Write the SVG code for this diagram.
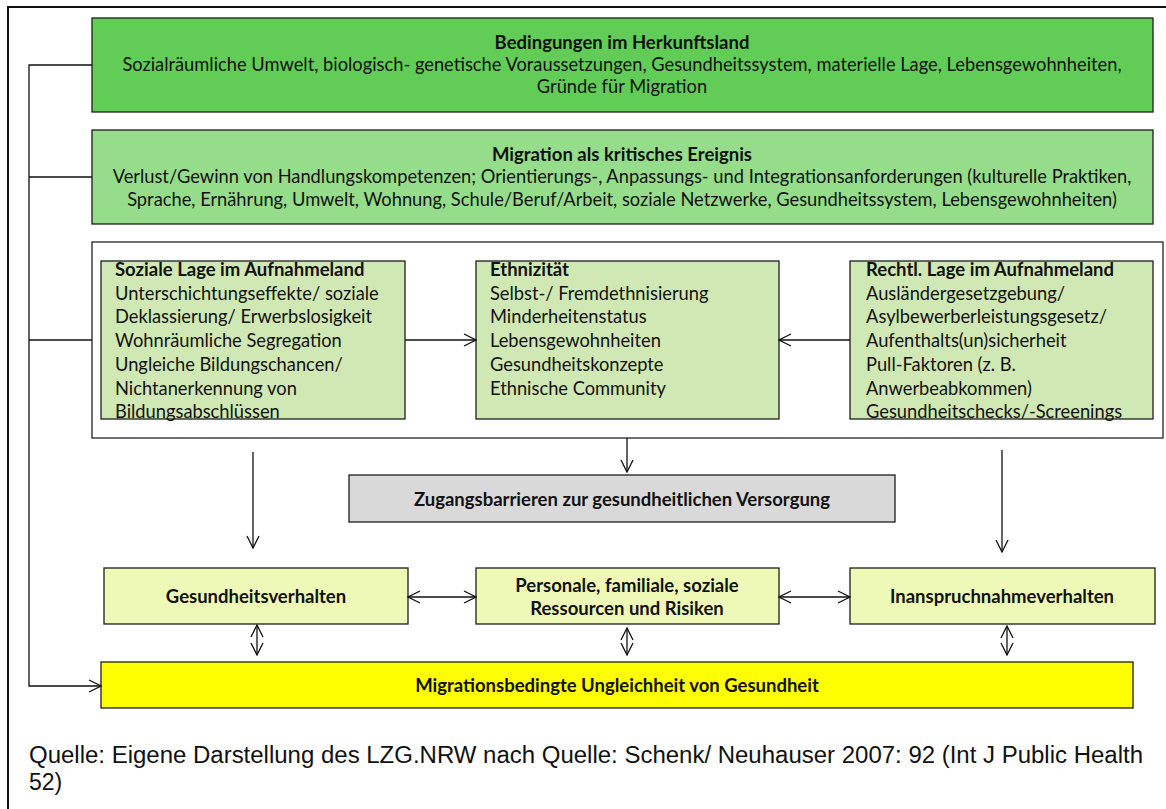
<svg xmlns="http://www.w3.org/2000/svg" width="1166" height="809" viewBox="0 0 1166 809">
<defs>
<marker id="v" viewBox="0 0 14 14" refX="13" refY="7" markerWidth="14" markerHeight="14" markerUnits="userSpaceOnUse" orient="auto-start-reverse">
<path d="M1,1 L13,7 L1,13" fill="none" stroke="#111" stroke-width="1.3"/>
</marker>
</defs>
<style>
.box{stroke:#1e1e1e;stroke-width:1.3}
.t{font-family:Lato,"Open Sans","Liberation Sans",sans-serif;font-size:18.3px;fill:#111}
.b{font-weight:bold;font-size:18.5px}
.c{text-anchor:middle}
.ln{stroke:#111;stroke-width:1.3;fill:none}
</style>
<rect width="1166" height="809" fill="#fff"/>
<rect x="8" y="7" width="1170" height="820" fill="none" stroke="#111" stroke-width="2"/>

<g id="frame-mid"><rect x="92" y="242" width="1071" height="196" fill="#fff" stroke="#111" stroke-width="1.2"/></g>

<g id="node-herkunft">
<rect class="box" x="92" y="18" width="1061" height="94" fill="#62CD56"/>
<text class="t b c" x="622" y="49">Bedingungen im Herkunftsland</text>
<text class="t c" x="622" y="71">Sozialräumliche Umwelt, biologisch- genetische Voraussetzungen, Gesundheitssystem, materielle Lage, Lebensgewohnheiten,</text>
<text class="t c" x="622" y="93">Gründe für Migration</text>
</g>

<g id="node-migration">
<rect class="box" x="92" y="130" width="1061" height="94" fill="#95DD8B"/>
<text class="t b c" x="622" y="161">Migration als kritisches Ereignis</text>
<text class="t c" x="622" y="183">Verlust/Gewinn von Handlungskompetenzen; Orientierungs-, Anpassungs- und Integrationsanforderungen (kulturelle Praktiken,</text>
<text class="t c" x="622" y="206">Sprache, Ernährung, Umwelt, Wohnung, Schule/Beruf/Arbeit, soziale Netzwerke, Gesundheitssystem, Lebensgewohnheiten)</text>
</g>

<g id="node-soziale">
<rect class="box" x="101" y="261" width="304" height="158" fill="#D0E8B3"/>
<text class="t" x="115" y="276"><tspan class="b">Soziale Lage im Aufnahmeland</tspan><tspan x="115" dy="23.7">Unterschichtungseffekte/ soziale</tspan><tspan x="115" dy="23.7">Deklassierung/ Erwerbslosigkeit</tspan><tspan x="115" dy="23.7">Wohnräumliche Segregation</tspan><tspan x="115" dy="23.7">Ungleiche Bildungschancen/</tspan><tspan x="115" dy="23.7">Nichtanerkennung von</tspan><tspan x="115" dy="23.7">Bildungsabschlüssen</tspan></text>
</g>

<g id="node-ethnizitaet">
<rect class="box" x="476" y="261" width="303" height="158" fill="#D0E8B3"/>
<text class="t" x="490" y="276"><tspan class="b">Ethnizität</tspan><tspan x="490" dy="23.7">Selbst-/ Fremdethnisierung</tspan><tspan x="490" dy="23.7">Minderheitenstatus</tspan><tspan x="490" dy="23.7">Lebensgewohnheiten</tspan><tspan x="490" dy="23.7">Gesundheitskonzepte</tspan><tspan x="490" dy="23.7">Ethnische Community</tspan></text>
</g>

<g id="node-rechtl">
<rect class="box" x="850" y="261" width="303" height="158" fill="#D0E8B3"/>
<text class="t" x="866" y="276"><tspan class="b">Rechtl. Lage im Aufnahmeland</tspan><tspan x="866" dy="23.7">Ausländergesetzgebung/</tspan><tspan x="866" dy="23.7">Asylbewerberleistungsgesetz/</tspan><tspan x="866" dy="23.7">Aufenthalts(un)sicherheit</tspan><tspan x="866" dy="23.7">Pull-Faktoren (z. B.</tspan><tspan x="866" dy="23.7">Anwerbeabkommen)</tspan><tspan x="866" dy="23.7">Gesundheitschecks/-Screenings</tspan></text>
</g>

<g id="node-zugang">
<rect class="box" x="349" y="475" width="546" height="47" fill="#D9D9D9"/>
<text class="t b c" x="622" y="506">Zugangsbarrieren zur gesundheitlichen Versorgung</text>
</g>

<g id="node-gesundheitsverhalten">
<rect class="box" x="104" y="568" width="304" height="56" fill="#EFF9B7"/>
<text class="t b c" x="256" y="603">Gesundheitsverhalten</text>
</g>

<g id="node-ressourcen">
<rect class="box" x="476" y="568" width="303" height="56" fill="#EFF9B7"/>
<text class="t b c" x="627" y="592">Personale, familiale, soziale</text>
<text class="t b c" x="627" y="615">Ressourcen und Risiken</text>
</g>

<g id="node-inanspruchnahme">
<rect class="box" x="850" y="568" width="305" height="56" fill="#EFF9B7"/>
<text class="t b c" x="1002" y="603">Inanspruchnahmeverhalten</text>
</g>

<g id="node-ungleichheit">
<rect class="box" x="101" y="662" width="1032" height="46" fill="#FFFF00"/>
<text class="t b c" x="617" y="692">Migrationsbedingte Ungleichheit von Gesundheit</text>
</g>

<g id="connectors">
<path class="ln" d="M92,65 H29 V686 H101" marker-end="url(#v)"/>
<path class="ln" d="M29,177 H92"/>
<path class="ln" d="M29,340 H92"/>
<path class="ln" d="M405,340 H476" marker-end="url(#v)"/>
<path class="ln" d="M850,340 H779" marker-end="url(#v)"/>
<path class="ln" d="M627,438 V472" marker-end="url(#v)"/>
<path class="ln" d="M253,452 V548" marker-end="url(#v)"/>
<path class="ln" d="M1002,450 V552" marker-end="url(#v)"/>
<path class="ln" d="M408,597 H476" marker-start="url(#v)" marker-end="url(#v)"/>
<path class="ln" d="M779,597 H850" marker-start="url(#v)" marker-end="url(#v)"/>
<path class="ln" d="M257,625 V655" marker-start="url(#v)" marker-end="url(#v)"/>
<path class="ln" d="M627,628 V655" marker-start="url(#v)" marker-end="url(#v)"/>
<path class="ln" d="M1007,626 V655" marker-start="url(#v)" marker-end="url(#v)"/>
</g>

<g id="source">
<text x="29" y="763" font-family="'Liberation Sans',Arial,sans-serif" font-size="23" textLength="1114" lengthAdjust="spacingAndGlyphs" fill="#111">Quelle: Eigene Darstellung des LZG.NRW nach Quelle: Schenk/ Neuhauser 2007: 92 (Int J Public Health</text>
<text x="29" y="790" font-family="'Liberation Sans',Arial,sans-serif" font-size="23" fill="#111">52)</text>
</g>
</svg>
